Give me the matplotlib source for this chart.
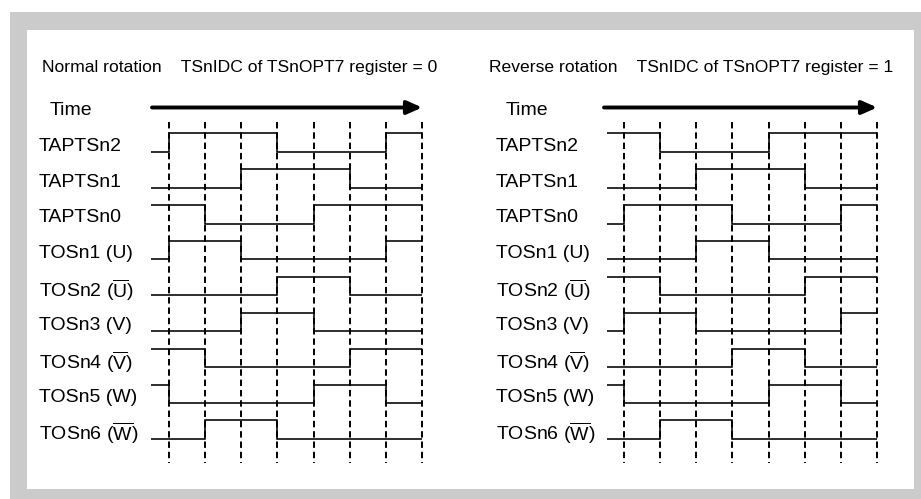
import matplotlib
matplotlib.use("Agg")
import matplotlib.pyplot as plt
from matplotlib.patches import Rectangle

plt.rcParams['font.family'] = ['Liberation Sans', 'DejaVu Sans']
plt.rcParams['mathtext.fontset'] = 'custom'
plt.rcParams['mathtext.rm'] = 'Liberation Sans'
plt.rcParams['mathtext.it'] = 'Liberation Sans:italic'
plt.rcParams['mathtext.bf'] = 'Liberation Sans:bold'

# ---------------- data ----------------
signal_labels = [
    "TAPTSn2", "TAPTSn1", "TAPTSn0",
    "TOSn1 (U)", r"TOSn2 ($\overline{\mathrm{U}}$)",
    "TOSn3 (V)", r"TOSn4 ($\overline{\mathrm{V}}$)",
    "TOSn5 (W)", r"TOSn6 ($\overline{\mathrm{W}}$)",
]

# states: first value = level before the first marker, then 7 intervals
normal_taptsn2 = [0, 1, 1, 1, 0, 0, 0, 1]
normal_taptsn1 = [0, 0, 0, 1, 1, 1, 0, 0]
normal_taptsn0 = [1, 1, 0, 0, 0, 1, 1, 1]
normal_tosn1 = [0, 1, 1, 0, 0, 0, 0, 1]
normal_tosn2 = [0, 0, 0, 0, 1, 1, 0, 0]
normal_tosn3 = [0, 0, 0, 1, 1, 0, 0, 0]
normal_tosn4 = [1, 1, 0, 0, 0, 0, 1, 1]
normal_tosn5 = [1, 0, 0, 0, 0, 1, 1, 0]
normal_tosn6 = [0, 0, 1, 1, 0, 0, 0, 0]

reverse_taptsn2 = [1, 1, 0, 0, 0, 1, 1, 1]
reverse_taptsn1 = [0, 0, 0, 1, 1, 1, 0, 0]
reverse_taptsn0 = [0, 1, 1, 1, 0, 0, 0, 1]
reverse_tosn1 = [0, 0, 0, 1, 1, 0, 0, 0]
reverse_tosn2 = [1, 1, 0, 0, 0, 0, 1, 1]
reverse_tosn3 = [0, 1, 1, 0, 0, 0, 0, 1]
reverse_tosn4 = [0, 0, 0, 0, 1, 1, 0, 0]
reverse_tosn5 = [1, 0, 0, 0, 0, 1, 1, 0]
reverse_tosn6 = [0, 0, 1, 1, 0, 0, 0, 0]

normal_title = "Normal rotation    TSnIDC of TSnOPT7 register = 0"
reverse_title = "Reverse rotation    TSnIDC of TSnOPT7 register = 1"
time_label = "Time"

normal_signals = [normal_taptsn2, normal_taptsn1, normal_taptsn0, normal_tosn1,
                  normal_tosn2, normal_tosn3, normal_tosn4, normal_tosn5, normal_tosn6]
reverse_signals = [reverse_taptsn2, reverse_taptsn1, reverse_taptsn0, reverse_tosn1,
                   reverse_tosn2, reverse_tosn3, reverse_tosn4, reverse_tosn5, reverse_tosn6]

# ---------------- layout ----------------
W, H = 921, 499
fig = plt.figure(figsize=(9.21, 4.99), dpi=100)
ax = fig.add_axes([0, 0, 1, 1])
ax.set_xlim(0, W)
ax.set_ylim(H, 0)
ax.axis('off')

ax.add_patch(Rectangle((10, 12), W - 10, H - 12, color='#cbcbcb', lw=0))
ax.add_patch(Rectangle((27, 30), 887, 459, color='white', lw=0))

row0_low = 151.7
row_pitch = 35.9
amp = 18.5
pitch = 36.05
n_marks = 8

panels = [
    dict(signals=normal_signals, title=normal_title, title_x=42, time_x=50,
         label_x=39, sig_x0=151, dash_x0=169.3, arrow_x0=152),
    dict(signals=reverse_signals, title=reverse_title, title_x=489, time_x=506,
         label_x=496, sig_x0=607, dash_x0=624.3, arrow_x0=604),
]

for p in panels:
    ax.text(p['title_x'], 67, p['title'], fontsize=12.6, va='center', ha='left')
    ax.text(p['time_x'], 110, time_label, fontsize=14, va='center', ha='left')
    marks = [p['dash_x0'] + k * pitch for k in range(n_marks)]
    ax.annotate('', xy=(marks[-1] + 0.5, 107.5), xytext=(p['arrow_x0'], 107.5),
                arrowprops=dict(arrowstyle='-|>,head_length=0.9,head_width=0.4',
                                lw=2.8, color='black', mutation_scale=10,
                                shrinkA=0, shrinkB=0))
    ax.vlines(marks, 122, 463, colors='black', lw=1.4,
              linestyles=[(0, (3.3, 2.0))])
    edges = [p['sig_x0']] + marks
    for i, (lab, st) in enumerate(zip(signal_labels, p['signals'])):
        low = row0_low + row_pitch * i
        ys = [low - amp * s for s in st]
        ax.stairs(ys, edges, baseline=None, color='black', lw=1.15)
        ax.text(p['label_x'], low - 5.5, lab, fontsize=14, va='center', ha='left')

fig.savefig('out.png', dpi=100)
